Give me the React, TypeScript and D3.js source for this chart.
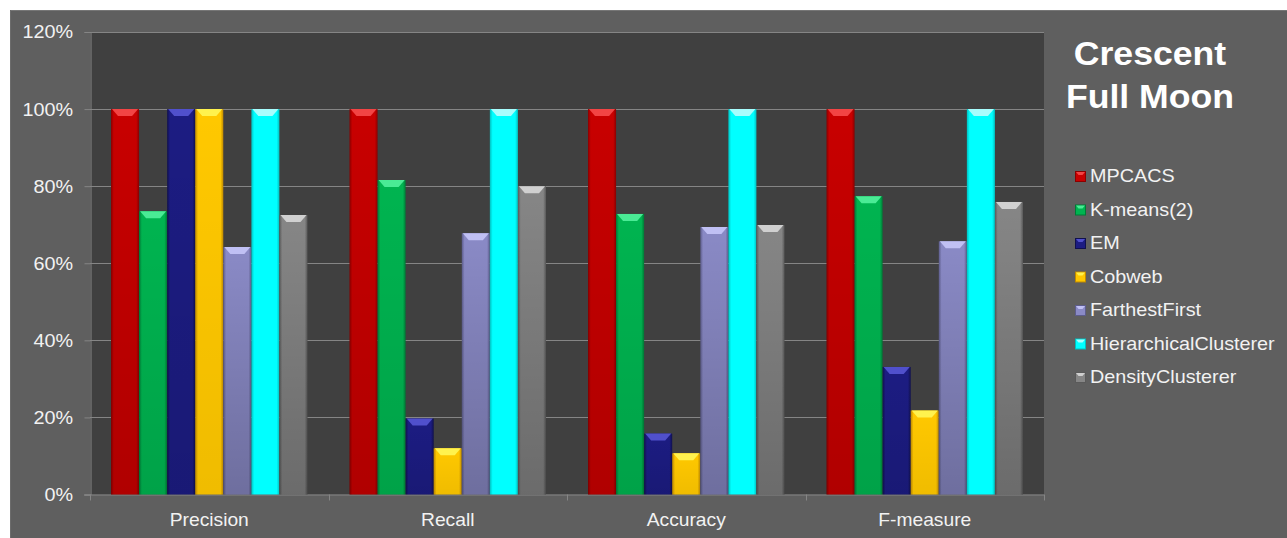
import React, { useEffect, useRef } from "react";
import * as d3 from "d3";

const categories = ["Precision", "Recall", "Accuracy", "F-measure"];
const seriesNames = [
  "MPCACS",
  "K-means(2)",
  "EM",
  "Cobweb",
  "FarthestFirst",
  "HierarchicalClusterer",
  "DensityClusterer",
];
// values per series, in category order (percent)
const mpcacs = [100, 100, 100, 100];
const kmeans = [73.5, 81.6, 72.8, 77.4];
const em = [100, 19.7, 15.8, 33.1];
const cobweb = [100, 12, 10.7, 21.8];
const farthestFirst = [64.2, 67.8, 69.4, 65.7];
const hierarchical = [100, 100, 100, 100];
const density = [72.5, 80, 69.9, 75.9];
const yTicks = [0, 20, 40, 60, 80, 100, 120];
const titleLines = ["Crescent", "Full Moon"];

const seriesValues = [mpcacs, kmeans, em, cobweb, farthestFirst, hierarchical, density];
// base, top-bevel, edge colours per series
const palette = [
  { base: "#c80000", light: "#f24444", dark: "#8a0000", shade: 0.12 },
  { base: "#00b450", light: "#4aeb95", dark: "#007a36", shade: 0.1 },
  { base: "#1c1c82", light: "#5050cc", dark: "#10104e", shade: 0.1 },
  { base: "#ffc800", light: "#fff24e", dark: "#c08a00", shade: 0.06 },
  { base: "#8a8ac6", light: "#c0c0f4", dark: "#5d5d8c", shade: 0.2 },
  { base: "#00ffff", light: "#a8fdfd", dark: "#00c0c0", shade: 0.0 },
  { base: "#868686", light: "#d0d0d0", dark: "#5a5a5a", shade: 0.2 },
];

const W = 1287;
const H = 538;
const FONT = "'Liberation Sans', Arial, sans-serif";
const SX = 1.1;

export default function App() {
  const ref = useRef<SVGSVGElement>(null);

  useEffect(() => {
    const svg = d3.select(ref.current);
    svg.selectAll("*").remove();

    const defs = svg.append("defs");
    palette.forEach((c, i) => {
      const g = defs
        .append("linearGradient")
        .attr("id", `side${i}`)
        .attr("x1", 0)
        .attr("x2", 1)
        .attr("y1", 0)
        .attr("y2", 0);
      g.append("stop").attr("offset", 0).attr("stop-color", c.dark);
      g.append("stop").attr("offset", 0.1).attr("stop-color", c.base);
      g.append("stop").attr("offset", 0.9).attr("stop-color", c.base);
      g.append("stop").attr("offset", 1).attr("stop-color", c.dark);
      const v = defs
        .append("linearGradient")
        .attr("id", `vert${i}`)
        .attr("x1", 0)
        .attr("x2", 0)
        .attr("y1", 0)
        .attr("y2", 1);
      v.append("stop").attr("offset", 0).attr("stop-color", "#000000").attr("stop-opacity", 0);
      v.append("stop").attr("offset", 1).attr("stop-color", "#000000").attr("stop-opacity", c.shade);
    });

    // outer frame
    svg
      .append("rect")
      .attr("x", 10)
      .attr("y", 10)
      .attr("width", W - 10)
      .attr("height", H - 10)
      .attr("fill", "#5f5f5f");
    svg
      .append("line")
      .attr("x1", 10)
      .attr("x2", W)
      .attr("y1", 10.5)
      .attr("y2", 10.5)
      .attr("stroke", "#767676");
    svg
      .append("line")
      .attr("x1", 10.5)
      .attr("x2", 10.5)
      .attr("y1", 10)
      .attr("y2", H)
      .attr("stroke", "#6c6c6c");

    const left = 90;
    const right = 1044;
    const top = 32;
    const bottom = 494.5;

    const y = d3.scaleLinear().domain([0, 120]).range([bottom, top]);
    const x0 = d3.scaleBand<string>().domain(categories).range([left, right]).padding(0);
    const gap = 21;
    const x1 = d3
      .scaleBand<string>()
      .domain(seriesNames)
      .range([gap, x0.bandwidth() - gap])
      .padding(0);

    svg
      .append("rect")
      .attr("x", left)
      .attr("y", top)
      .attr("width", right - left)
      .attr("height", bottom - top)
      .attr("fill", "#404040");

    // gridlines
    svg
      .append("g")
      .selectAll("line")
      .data(yTicks.filter((t) => t > 0))
      .join("line")
      .attr("x1", left)
      .attr("x2", right)
      .attr("y1", (d) => Math.round(y(d)) + 0.5)
      .attr("y2", (d) => Math.round(y(d)) + 0.5)
      .attr("stroke", "#858585")
      .attr("stroke-width", 1);

    // y axis line and ticks
    const yAxis = svg.append("g").attr("transform", `translate(${left + 0.5},0)`);
    yAxis
      .call(d3.axisLeft(y).tickValues(yTicks).tickSize(6).tickFormat(() => ""))
      .call((g) => g.select(".domain").attr("stroke", "#858585"))
      .call((g) => g.selectAll(".tick line").attr("stroke", "#858585"));

    svg
      .append("g")
      .selectAll("text")
      .data(yTicks)
      .join("text")
      .attr("transform", (d) => `translate(73,${y(d)}) scale(${SX},1)`)
      .attr("dy", "0.36em")
      .attr("text-anchor", "end")
      .attr("fill", "#f2f2f2")
      .attr("font-family", FONT)
      .attr("font-size", 18)
      .text((d) => `${d}%`);

    // x axis
    const xAxis = svg.append("g").attr("transform", `translate(0,${bottom})`);
    xAxis
      .append("line")
      .attr("x1", left - 6)
      .attr("x2", right)
      .attr("y1", 0.5)
      .attr("y2", 0.5)
      .attr("stroke", "#858585");
    xAxis
      .selectAll("line.tk")
      .data([...categories.map((c) => x0(c) as number), right])
      .join("line")
      .attr("class", "tk")
      .attr("x1", (d) => Math.round(d) + 0.5)
      .attr("x2", (d) => Math.round(d) + 0.5)
      .attr("y1", 0)
      .attr("y2", 6)
      .attr("stroke", "#858585");
    xAxis
      .selectAll("text")
      .data(categories)
      .join("text")
      .attr("transform", (d) => `translate(${(x0(d) as number) + x0.bandwidth() / 2},31) scale(${SX},1)`)
      .attr("text-anchor", "middle")
      .attr("fill", "#f2f2f2")
      .attr("font-family", FONT)
      .attr("font-size", 17.5)
      .text((d) => d);

    // bars
    const bars = svg.append("g");
    categories.forEach((cat, ci) => {
      seriesNames.forEach((s, si) => {
        const v = seriesValues[si][ci];
        const bx = (x0(cat) as number) + (x1(s) as number);
        const bw = x1.bandwidth();
        const by = y(v);
        const bh = bottom - by;
        const c = palette[si];
        const g = bars.append("g");
        g.append("rect")
          .attr("x", bx)
          .attr("y", by)
          .attr("width", bw)
          .attr("height", bh)
          .attr("fill", `url(#side${si})`);
        g.append("rect")
          .attr("x", bx)
          .attr("y", by)
          .attr("width", bw)
          .attr("height", bh)
          .attr("fill", `url(#vert${si})`);
        const bev = 7;
        g.append("polygon")
          .attr(
            "points",
            [
              [bx + 1, by],
              [bx + bw - 1, by],
              [bx + bw - bev, by + bev],
              [bx + bev, by + bev],
            ]
              .map((p) => p.join(","))
              .join(" ")
          )
          .attr("fill", c.light);
      });
    });

    // title
    svg
      .append("g")
      .selectAll("text")
      .data(titleLines)
      .join("text")
      .attr("transform", (_, i) => `translate(1150,${65 + i * 43}) scale(1.08,1)`)
      .attr("text-anchor", "middle")
      .attr("fill", "#ffffff")
      .attr("font-family", FONT)
      .attr("font-weight", "bold")
      .attr("font-size", 33)
      .text((d) => d);

    // legend
    const legend = svg
      .append("g")
      .selectAll("g")
      .data(seriesNames)
      .join("g")
      .attr("transform", (_, i) => `translate(1075,${182 + i * 33.5})`);
    legend
      .append("rect")
      .attr("x", 0.5)
      .attr("y", -10.5)
      .attr("width", 10)
      .attr("height", 10)
      .attr("fill", (_, i) => palette[i].base)
      .attr("stroke", (_, i) => palette[i].dark)
      .attr("stroke-width", 1);
    legend
      .append("polygon")
      .attr("points", "1,-10 10,-10 7.5,-7 3.5,-7")
      .attr("fill", (_, i) => palette[i].light);
    legend
      .append("text")
      .attr("transform", `translate(15,0) scale(${SX},1)`)
      .attr("fill", "#f2f2f2")
      .attr("font-family", FONT)
      .attr("font-size", 18)
      .text((d) => d);
  }, []);

  return (
    <svg
      ref={ref}
      width={W}
      height={H}
      style={{ position: "absolute", left: 0, top: 0, display: "block", background: "#ffffff" }}
    />
  );
}
